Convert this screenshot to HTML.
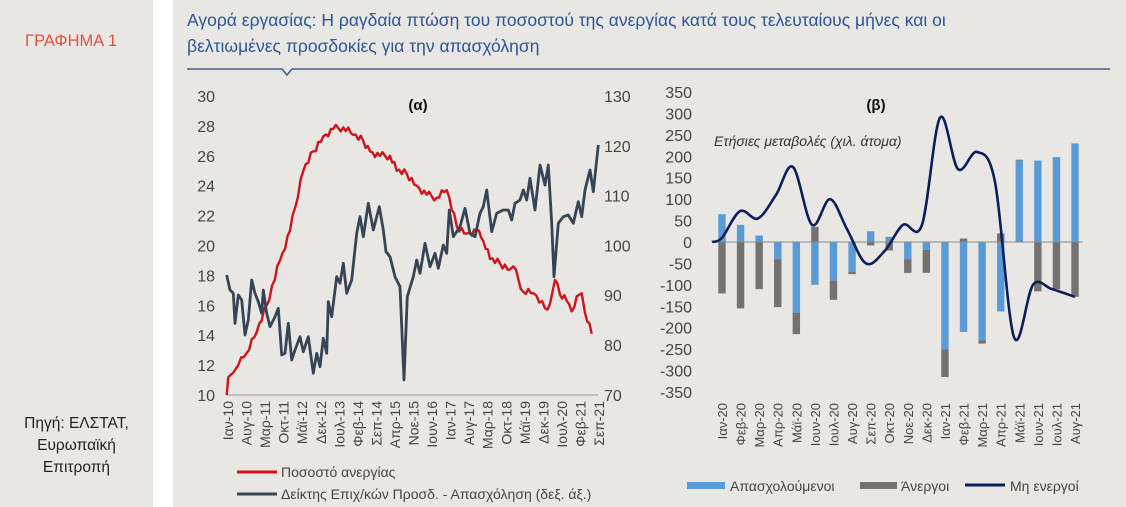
<!DOCTYPE html>
<html><head><meta charset="utf-8"><style>
html,body{margin:0;padding:0}
body{width:1126px;height:507px;background:#e8e7e3;position:relative;overflow:hidden;font-family:"Liberation Sans",sans-serif}
#strip{position:absolute;left:153px;top:0;width:20px;height:507px;background:#fff}
.t{position:absolute;white-space:nowrap}
</style></head><body>
<div id="strip"></div>
<div class="t" style="left:25px;top:32px;color:#e0523a;font-size:16.5px">ΓΡΑΦΗΜΑ 1</div>
<div class="t" style="left:0;width:153px;top:413px;text-align:center;color:#222;font-size:15.5px;line-height:22px">Πηγή: ΕΛΣΤΑΤ,<br>Ευρωπαϊκή<br>Επιτροπή</div>
<div class="t" style="left:187px;top:7px;color:#2f5597;font-size:17.5px;line-height:26px">Αγορά εργασίας: Η ραγδαία πτώση του ποσοστού της ανεργίας κατά τους τελευταίους μήνες και οι<br>βελτιωμένες προσδοκίες για την απασχόληση</div>
<svg id="s" width="1126" height="507" style="position:absolute;left:0;top:0" font-family="Liberation Sans, sans-serif"></svg>
<script>
var s=document.getElementById('s'),h='';
h+='<polyline points="187,69 282,69 287,75 292,69 1110,69" fill="none" stroke="#44608a" stroke-width="1.6"/>';
for(var i=0;i<=10;i++){var y=96+i*29.9;h+='<text x="215" y="'+(y+6)+'" font-size="16" fill="#444" text-anchor="end">'+(30-2*i)+'</text>';}
for(var i=0;i<=6;i++){var y=96+i*49.8;h+='<text x="604" y="'+(y+6)+'" font-size="16" fill="#444">'+(130-10*i)+'</text>';}
h+='<line x1="227" y1="395" x2="598" y2="395" stroke="#999" stroke-width="1"/>';
h+='<text x="418" y="110" font-size="15" font-weight="bold" text-anchor="middle" fill="#111">(α)</text>';
var la=['Ιαν-10','Αυγ-10','Μαρ-11','Οκτ-11','Μάϊ-12','Δεκ-12','Ιουλ-13','Φεβ-14','Σεπ-14','Απρ-15','Νοε-15','Ιουν-16','Ιαν-17','Αυγ-17','Μαρ-18','Οκτ-18','Μάϊ-19','Δεκ-19','Ιουλ-20','Φεβ-21','Σεπ-21'];
la.forEach(function(l,i){var x=228+i*18.55+5;h+='<text transform="translate('+x+',401) rotate(-90)" font-size="14" fill="#444" text-anchor="end">'+l+'</text>';});
function zp(a){return a.map(function(p){return (180+p[0]/3).toFixed(1)+','+(80+p[1]/3).toFixed(1)}).join(' ');}
var red=[[140,10],[145,11.2],[160,11.5],[175,12],[200,12.8],[230,14.2],[260,16],[300,19],[330,21],[345,22.5],[370,25],[400,26.3],[430,27.3],[460,27.8],[490,27.9],[520,27.4],[550,27],[570,26.3],[600,26],[630,26],[650,25],[680,24.8],[710,24],[740,23.4],[770,23.2],[800,23.7],[830,21.3],[860,20.8],[890,21],[910,20.3],[930,19.1],[960,18.8],[990,18.4],[1000,18.6],[1030,16.9],[1060,16.8],[1095,15.8],[1110,16.1],[1125,17.7],[1140,16.7],[1160,16.3],[1175,15.6],[1190,16.6],[1205,16.8],[1215,15.5],[1235,14.1]];
// densify with jitter
var rd=[];
for(var i=0;i<red.length-1;i++){var a=red[i],b=red[i+1],n=Math.max(1,Math.round((b[0]-a[0])/8));
 for(var j=0;j<n;j++){var t=j/n,v=a[1]+(b[1]-a[1])*t;var jit=(i>1&&j>0)?(((i*7+j*13)%5)-2)*0.12:0;rd.push([a[0]+(b[0]-a[0])*t,v+jit]);}}
rd.push(red[red.length-1]);
var rp=rd.map(function(p){var y=395-(p[1]-10)*14.95;return [p[0],(y-80)*3];});
var gray=[[140,585],[150,630],[160,640],[165,730],[175,645],[185,660],[195,765],[205,720],[215,600],[225,640],[235,665],[245,700],[250,630],[260,700],[270,740],[285,710],[295,685],[305,825],[315,820],[325,730],[335,840],[345,810],[360,770],[370,815],[385,770],[400,880],[410,820],[420,860],[430,775],[440,820],[445,665],[455,710],[470,590],[480,610],[490,550],[500,640],[515,600],[530,460],[540,410],[550,470],[565,370],[580,450],[598,380],[610,450],[618,515],[630,530],[645,590],[660,620],[672,900],[682,650],[700,590],[710,540],[720,580],[735,490],[750,560],[765,520],[775,565],[790,495],[800,520],[808,390],[820,470],[840,440],[855,385],[870,460],[885,470],[900,400],[910,380],[920,330],[935,455],[950,400],[970,390],[985,390],[995,420],[1005,370],[1020,360],[1030,330],[1040,360],[1050,295],[1065,390],[1080,255],[1095,315],[1105,255],[1115,430],[1122,590],[1135,430],[1150,410],[1165,405],[1180,430],[1195,365],[1205,410],[1215,330],[1230,270],[1240,335],[1255,195]];
h+='<polyline points="'+zp(rp)+'" fill="none" stroke="#d0141c" stroke-width="2.4" stroke-linejoin="round"/>';
h+='<polyline points="'+zp(gray)+'" fill="none" stroke="#374456" stroke-width="2.8" stroke-linejoin="round"/>';
h+='<line x1="237" y1="472" x2="277" y2="472" stroke="#d0141c" stroke-width="3"/><text x="281" y="477" font-size="14" fill="#444">Ποσοστό ανεργίας</text>';
h+='<line x1="237" y1="494" x2="277" y2="494" stroke="#374456" stroke-width="3"/><text x="281" y="499" font-size="14" fill="#444">Δείκτης Επιχ/κών Προσδ. - Απασχόληση (δεξ. άξ.)</text>';
var z=242,k=0.4286;
for(var i=0;i<=14;i++){var v=350-50*i,y=z-v*k;h+='<text x="692" y="'+(y+6)+'" font-size="16" fill="#444" text-anchor="end">'+v+'</text>';}
h+='<text x="876" y="110" font-size="15" font-weight="bold" text-anchor="middle" fill="#111">(β)</text>';
h+='<text x="714" y="146" font-size="14" font-style="italic" fill="#333">Ετήσιες μεταβολές (χιλ. άτομα)</text>';
var E=[65,40,15,-40,-165,-100,-90,-70,25,12,-40,-18,-250,-210,-230,-162,190,190,198,230];
var U=[-120,-155,-110,-112,-50,35,-45,-5,-8,-20,-32,-54,-65,8,-7,20,2,-115,-110,-128];
var bl=['Ιαν-20','Φεβ-20','Μαρ-20','Απρ-20','Μάϊ-20','Ιουν-20','Ιουλ-20','Αυγ-20','Σεπ-20','Οκτ-20','Νοε-20','Δεκ-20','Ιαν-21','Φεβ-21','Μαρ-21','Απρ-21','Μάϊ-21','Ιουν-21','Ιουλ-21','Αυγ-21'];
for(var i=0;i<20;i++){var cx=722+i*18.58,e=E[i],u=U[i];
 var pos=0,neg=0;
 function bar(v,c){var y0,y1;if(v>=0){y0=pos;y1=pos+v;pos=y1;}else{y0=neg;y1=neg+v;neg=y1;}var a=z-Math.max(y0,y1)*k,b=z-Math.min(y0,y1)*k;h+='<rect x="'+(cx-3.7)+'" y="'+a+'" width="7.4" height="'+(b-a)+'" fill="'+c+'"/>';}
 bar(e,'#5b9bd5');bar(u,'#767171');
 h+='<text transform="translate('+(cx+5)+',403) rotate(-90)" font-size="13" fill="#444" text-anchor="end">'+bl[i]+'</text>';}
h+='<line x1="712" y1="242" x2="1083" y2="242" stroke="#888" stroke-width="1"/>';
var L=[[712,0],[722,10],[740,72],[758,55],[776,110],[793,175],[812,40],[830,100],[847,30],[866,-50],[885,-20],[903,40],[922,40],[940,290],[958,170],[977,210],[995,140],[1014,-222],[1033,-100],[1052,-110],[1075,-128]];
var P=L.map(function(p){return [p[0],z-p[1]*k]});
var d='M'+P[0][0]+','+P[0][1];
for(var i=0;i<P.length-1;i++){var p0=P[Math.max(0,i-1)],p1=P[i],p2=P[i+1],p3=P[Math.min(P.length-1,i+2)];
 d+=' C'+(p1[0]+(p2[0]-p0[0])/6)+','+(p1[1]+(p2[1]-p0[1])/6)+' '+(p2[0]-(p3[0]-p1[0])/6)+','+(p2[1]-(p3[1]-p1[1])/6)+' '+p2[0]+','+p2[1];}
h+='<path d="'+d+'" fill="none" stroke="#0c1f5c" stroke-width="2.6"/>';
h+='<rect x="687" y="482" width="38" height="7" fill="#5b9bd5"/><text x="730" y="491" font-size="14" fill="#444">Απασχολούμενοι</text>';
h+='<rect x="860" y="482" width="37" height="7" fill="#767171"/><text x="901" y="491" font-size="14" fill="#444">Άνεργοι</text>';
h+='<line x1="965" y1="485" x2="1005" y2="485" stroke="#0c1f5c" stroke-width="3"/><text x="1010" y="491" font-size="14" fill="#444">Μη ενεργοί</text>';
s.innerHTML=h;
</script>
</body></html>
